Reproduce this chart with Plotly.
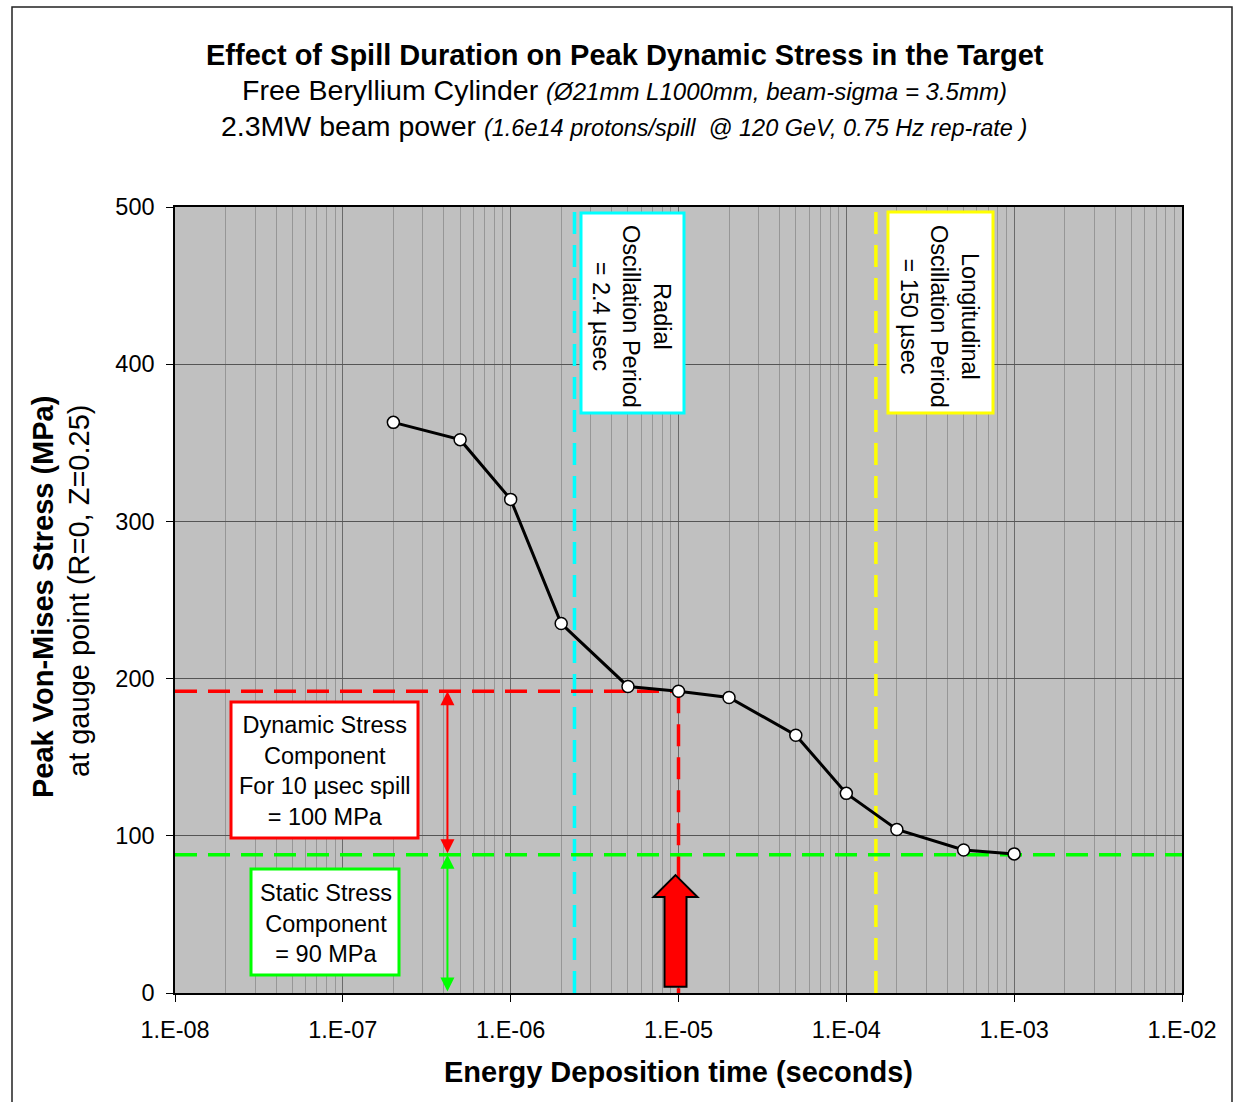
import math
import plotly.graph_objects as go

# ---------------- data ----------------
spill_time_s = [2e-7, 5e-7, 1e-6, 2e-6, 5e-6, 1e-5, 2e-5, 5e-5, 1e-4, 2e-4, 5e-4, 1e-3]
peak_stress_mpa = [363, 352, 314, 235, 195, 192, 188, 164, 127, 104, 91, 88.5]

x_tick_vals = [1e-8, 1e-7, 1e-6, 1e-5, 1e-4, 1e-3, 1e-2]
x_tick_text = ["1.E-08", "1.E-07", "1.E-06", "1.E-05", "1.E-04", "1.E-03", "1.E-02"]
x_minor_digits = [2, 3, 4, 5, 6, 7, 8, 9]
y_tick_vals = [0, 100, 200, 300, 400, 500]

radial_period_s = 2.4e-6
longitudinal_period_s = 1.5e-4
dynamic_peak_mpa = 192       # stress at 10 usec spill
static_stress_mpa = 88       # static component level
spill_10us = 1e-5
arrow_x = 4.2e-7             # location of the double arrows

x_minor_vals = [d * t for t in x_tick_vals[:-1] for d in x_minor_digits]

# ---------------- geometry helpers (layout only) ----------------
W, H = 1235, 1102
PL, PR, PT, PB = 175, 1182, 207, 993


def px(xp):
    return (xp - PL) / (PR - PL)


def py(yp):
    return (PB - yp) / (PB - PT)


FONT = "Liberation Sans, Arial, sans-serif"

fig = go.Figure()

# reference lines
fig.add_trace(go.Scatter(x=[radial_period_s, radial_period_s], y=[0, 500], mode="lines",
                         line=dict(color="#00FFFF", width=3.5, dash="22px,11px"),
                         hoverinfo="skip", showlegend=False))
fig.add_trace(go.Scatter(x=[longitudinal_period_s, longitudinal_period_s], y=[0, 500], mode="lines",
                         line=dict(color="#FFFF00", width=3.5, dash="22px,11px"),
                         hoverinfo="skip", showlegend=False))
fig.add_trace(go.Scatter(x=[1e-8, spill_10us], y=[dynamic_peak_mpa, dynamic_peak_mpa], mode="lines",
                         line=dict(color="#FF0000", width=3.5, dash="22px,11px"),
                         hoverinfo="skip", showlegend=False))
fig.add_trace(go.Scatter(x=[spill_10us, spill_10us], y=[dynamic_peak_mpa, 0], mode="lines",
                         line=dict(color="#FF0000", width=3.5, dash="22px,11px"),
                         hoverinfo="skip", showlegend=False))
fig.add_trace(go.Scatter(x=[1e-8, 1e-2], y=[static_stress_mpa, static_stress_mpa], mode="lines",
                         line=dict(color="#00FF00", width=3.5, dash="22px,11px"),
                         hoverinfo="skip", showlegend=False))

# data series
fig.add_trace(go.Scatter(x=spill_time_s, y=peak_stress_mpa, mode="lines+markers",
                         line=dict(color="black", width=3),
                         marker=dict(symbol="circle", size=12, color="white",
                                     line=dict(color="black", width=1.5)),
                         showlegend=False))

shapes = []
annotations = []

# outer frame
shapes.append(dict(type="path", xref="paper", yref="paper",
                   path=f"M {px(12)} {py(1110)} L {px(12)} {py(7)} L {px(1232)} {py(7)} L {px(1232)} {py(1110)}",
                   line=dict(color="#222222", width=1.5), layer="above"))


def box(x0, y0, x1, y1, color):
    shapes.append(dict(type="rect", xref="paper", yref="paper",
                       x0=px(x0), x1=px(x1), y0=py(y1), y1=py(y0),
                       fillcolor="white", line=dict(color=color, width=3), layer="above"))


box(231, 702, 418, 838, "#FF0000")
box(251, 869, 399, 975, "#00FF00")
box(581, 213, 684, 413, "#00FFFF")
box(888, 212, 993, 413, "#FFFF00")


def label(xp, yp, text, size, angle=0):
    annotations.append(dict(xref="paper", yref="paper", x=px(xp), y=py(yp), text=text,
                            xanchor="center", yanchor="middle", showarrow=False,
                            textangle=angle, align="center",
                            font=dict(family=FONT, size=size, color="black")))


label(325, 771, "Dynamic Stress<br>Component<br>For 10 µsec spill<br>= 100 MPa", 23.5)
label(326, 923, "Static Stress<br>Component<br>= 90 MPa", 23.5)
label(632, 316, "Radial<br>Oscillation Period<br>= 2.4 µsec", 23.5, 90)
label(940, 316, "Longitudinal<br>Oscillation Period<br>= 150 µsec", 23.5, 90)

# double arrows
for top, bot, col in [(dynamic_peak_mpa, static_stress_mpa, "#FF0000"),
                      (static_stress_mpa, 0, "#00FF00")]:
    annotations.append(dict(x=math.log10(arrow_x), y=top, ax=math.log10(arrow_x), ay=bot,
                            xref="x", yref="y", axref="x", ayref="y", text="",
                            showarrow=True, arrowside="end+start", arrowhead=2, startarrowhead=2,
                            arrowsize=1.4, startarrowsize=1.4, arrowwidth=2, arrowcolor=col,
                            standoff=0, startstandoff=0))

# block arrow (paper x, data y)
cx = px(675.5)
hw = 22 / (PR - PL)
sw = 11 / (PR - PL)
tip, hb, bottom = 75, 61, 4
shapes.append(dict(type="path", xref="paper", yref="y",
                   path=(f"M {cx} {tip} L {cx + hw} {hb} L {cx + sw} {hb} L {cx + sw} {bottom} "
                         f"L {cx - sw} {bottom} L {cx - sw} {hb} L {cx - hw} {hb} Z"),
                   fillcolor="#FF0000", line=dict(color="black", width=2), layer="above"))

# titles
label(625, 55, "<b>Effect of Spill Duration on Peak Dynamic Stress in the Target</b>", 29)
label(624, 90, "Free Beryllium Cylinder <i><span style='font-size:24px'>(Ø21mm L1000mm, beam-sigma = 3.5mm)</span></i>", 28.5)
label(624, 126, "2.3MW beam power <i><span style='font-size:23.5px'>(1.6e14 protons/spill  @ 120 GeV, 0.75 Hz rep-rate )</span></i>", 28.5)
label(678.5, 1072, "<b>Energy Deposition time (seconds)</b>", 29)
label(43, 597, "<b>Peak Von-Mises Stress (MPa)</b>", 29, -90)
label(79, 591, "at gauge point (R=0, Z=0.25)", 29, -90)

fig.update_layout(
    width=W, height=H,
    margin=dict(l=PL, r=W - PR, t=PT, b=H - PB, pad=0),
    paper_bgcolor="white", plot_bgcolor="#C0C0C0",
    font=dict(family=FONT, size=23.5, color="black"),
    shapes=shapes, annotations=annotations,
    showlegend=False,
)
fig.update_xaxes(type="log", range=[-8, -2], tickmode="array", tickvals=x_tick_vals, ticktext=x_tick_text,
                 ticks="outside", ticklen=7, tickcolor="black", tickwidth=1,
                 showgrid=True, gridcolor="#6a6a6a", gridwidth=1,
                 minor=dict(tickmode="array", tickvals=x_minor_vals, showgrid=True,
                            gridcolor="#969696", gridwidth=1, ticks=""),
                 showline=True, linecolor="black", linewidth=1.5, mirror=True,
                 tickfont=dict(family=FONT, size=23.5), zeroline=False, ticklabelstandoff=8)
fig.update_yaxes(range=[0, 500], tickmode="array", tickvals=y_tick_vals,
                 ticks="outside", ticklen=7, tickcolor="black", tickwidth=1,
                 showgrid=True, gridcolor="#555555", gridwidth=1,
                 showline=True, linecolor="black", linewidth=1.5, mirror=True,
                 tickfont=dict(family=FONT, size=23.5), zeroline=False, ticklabelstandoff=7)

fig.write_html("out.html")
